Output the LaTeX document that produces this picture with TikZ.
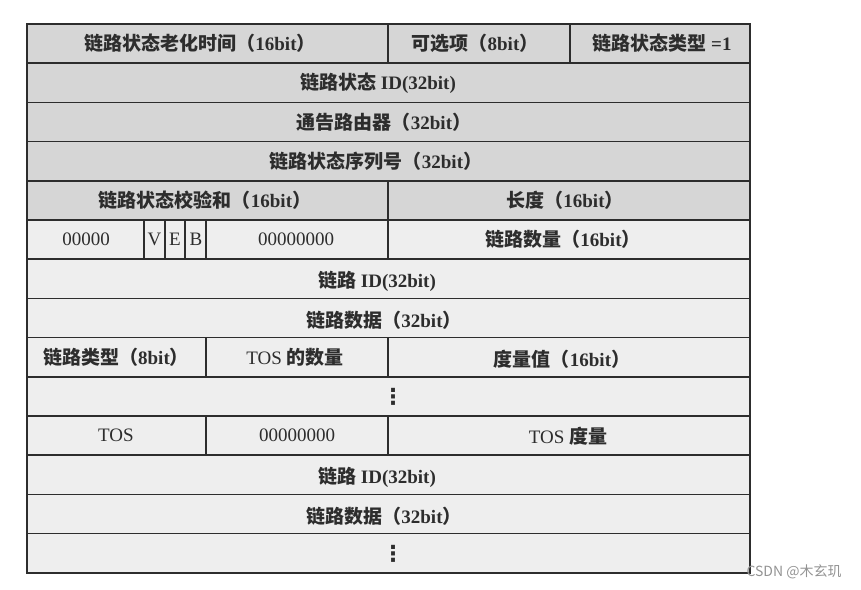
\documentclass[tikz,border=0pt]{standalone}
\usepackage{fontspec}
\setmainfont{Liberation Serif}
\newfontfamily\cjk{Noto Sans CJK SC}
\newfontfamily\wmfont{Noto Sans CJK SC}
\newfontfamily\symfont{DejaVu Sans}

\definecolor{hdrgray}{RGB}{214,214,214}
\definecolor{bodygray}{RGB}{238,238,238}
\definecolor{inkgray}{RGB}{45,45,45}

% field label: Chinese name + (bits)
\newcommand{\zh}[1]{{\cjk\bfseries #1}}
\newcommand{\fld}[2]{\zh{#1（}#2\zh{）}}

\tikzset{
  lbl/.style={font=\fontsize{19}{21}\selectfont\bfseries, text=inkgray, anchor=center},
  plain/.style={font=\fontsize{19}{21}\selectfont, text=inkgray, anchor=center},
  more/.style={font=\symfont\bfseries\fontsize{22}{24}\selectfont, text=inkgray, anchor=center},
  grid/.style={draw=inkgray, line width=1.7pt}
}

\begin{document}
\begin{tikzpicture}[x=1pt,y=-1pt]

    % --- Canvas ---
    \useasboundingbox (0,0) rectangle (861,589);

    % --- Table frame ---
    % left/right edges and column splits
    \def\L{27}
    \def\R{750}
    \def\M{388}
    \def\Q{206}
    % row boundaries (height 39.2)
    \def\rA{24}      \def\rB{63.2}    \def\rC{102.4}
    \def\rD{141.6}   \def\rE{180.8}   \def\rF{220}
    \def\rG{259.2}   \def\rH{298.4}   \def\rI{337.6}
    \def\rJ{376.8}   \def\rK{416}     \def\rL{455.2}
    \def\rM{494.4}   \def\rN{533.6}   \def\rO{572.8}

    % --- Fills ---
    \fill[hdrgray] (\L,\rA) rectangle (\R,\rF);
    \fill[bodygray] (\L,\rF) rectangle (\R,\rO);

    % --- Horizontal rules ---
    \draw[grid] (\L,\rA) rectangle (\R,\rO);
    \draw[grid] (\L,\rB) -- (\R,\rB);
    \draw[grid] (\L,\rC) -- (\R,\rC);
    \draw[grid] (\L,\rD) -- (\R,\rD);
    \draw[grid] (\L,\rE) -- (\R,\rE);
    \draw[grid] (\L,\rF) -- (\R,\rF);
    \draw[grid] (\L,\rG) -- (\R,\rG);
    \draw[grid] (\L,\rH) -- (\R,\rH);
    \draw[grid] (\L,\rI) -- (\R,\rI);
    \draw[grid] (\L,\rJ) -- (\R,\rJ);
    \draw[grid] (\L,\rK) -- (\R,\rK);
    \draw[grid] (\L,\rL) -- (\R,\rL);
    \draw[grid] (\L,\rM) -- (\R,\rM);
    \draw[grid] (\L,\rN) -- (\R,\rN);

    % --- Vertical splits ---
    \draw[grid] (\M,\rA) -- (\M,\rB);   % age | options
    \draw[grid] (570,\rA) -- (570,\rB); % options | type
    \draw[grid] (\M,\rE) -- (\M,\rG);   % checksum | length, flags | links
    \draw[grid] (144,\rF) -- (144,\rG); % V
    \draw[grid] (165,\rF) -- (165,\rG); % E
    \draw[grid] (185,\rF) -- (185,\rG); % B
    \draw[grid] (\Q,\rF) -- (\Q,\rG);
    \draw[grid] (\Q,\rI) -- (\Q,\rJ);   % link type | TOS count
    \draw[grid] (\M,\rI) -- (\M,\rJ);
    \draw[grid] (\Q,\rK) -- (\Q,\rL);   % TOS | zeros
    \draw[grid] (\M,\rK) -- (\M,\rL);

    % --- Header rows ---
    \node[lbl] (age) at (200,43.6) {\fld{链路状态老化时间}{16bit}};
    \node[lbl] (opts) at (475,43.6) {\fld{可选项}{8bit}};
    \node[lbl] (lstype) at (662,43.6) {\zh{链路状态类型} =1};
    \node[lbl] (lsid) at (378,82.8) {\zh{链路状态} ID(32bit)};
    \node[lbl] (advrt) at (384,122) {\fld{通告路由器}{32bit}};
    \node[lbl] (seqno) at (376,161.2) {\fld{链路状态序列号}{32bit}};
    \node[lbl] (cksum) at (205,200.4) {\fld{链路状态校验和}{16bit}};
    \node[lbl] (len) at (565,200.4) {\fld{长度}{16bit}};

    % --- Router LSA body ---
    \node[plain] (padA) at (86,239.6) {00000};
    \node[plain] (vbit) at (154.5,239.6) {V};
    \node[plain] (ebit) at (175,239.6) {E};
    \node[plain] (bbit) at (196,239.6) {B};
    \node[plain] (padB) at (296,239.6) {00000000};
    \node[lbl] (nlinks) at (563,239.6) {\fld{链路数量}{16bit}};
    \node[lbl] (linkidA) at (377,281) {\zh{链路} ID(32bit)};
    \node[lbl] (linkdataA) at (384,320) {\fld{链路数据}{32bit}};
    \node[lbl] (ltype) at (116,357.2) {\fld{链路类型}{8bit}};
    \node[plain] (ntos) at (295,357.2) {TOS \zh{的数量}};
    \node[lbl] (metric) at (562,359) {\fld{度量值}{16bit}};
    \node[more] (moreA) at (393,396.4) {⋮};
    \node[plain] (tos) at (116,435.6) {TOS};
    \node[plain] (padC) at (297,435.6) {00000000};
    \node[plain] (tosmetric) at (568,436.6) {TOS \zh{度量}};
    \node[lbl] (linkidB) at (377,477) {\zh{链路} ID(32bit)};
    \node[lbl] (linkdataB) at (384,516) {\fld{链路数据}{32bit}};
    \node[more] (moreB) at (393,554) {⋮};

    % --- Watermark ---
    \node[font=\wmfont\fontsize{14}{16}\selectfont, text=gray!85, anchor=west] (wm) at (743,572) {CSDN @木玄玑};

\end{tikzpicture}
\end{document}
